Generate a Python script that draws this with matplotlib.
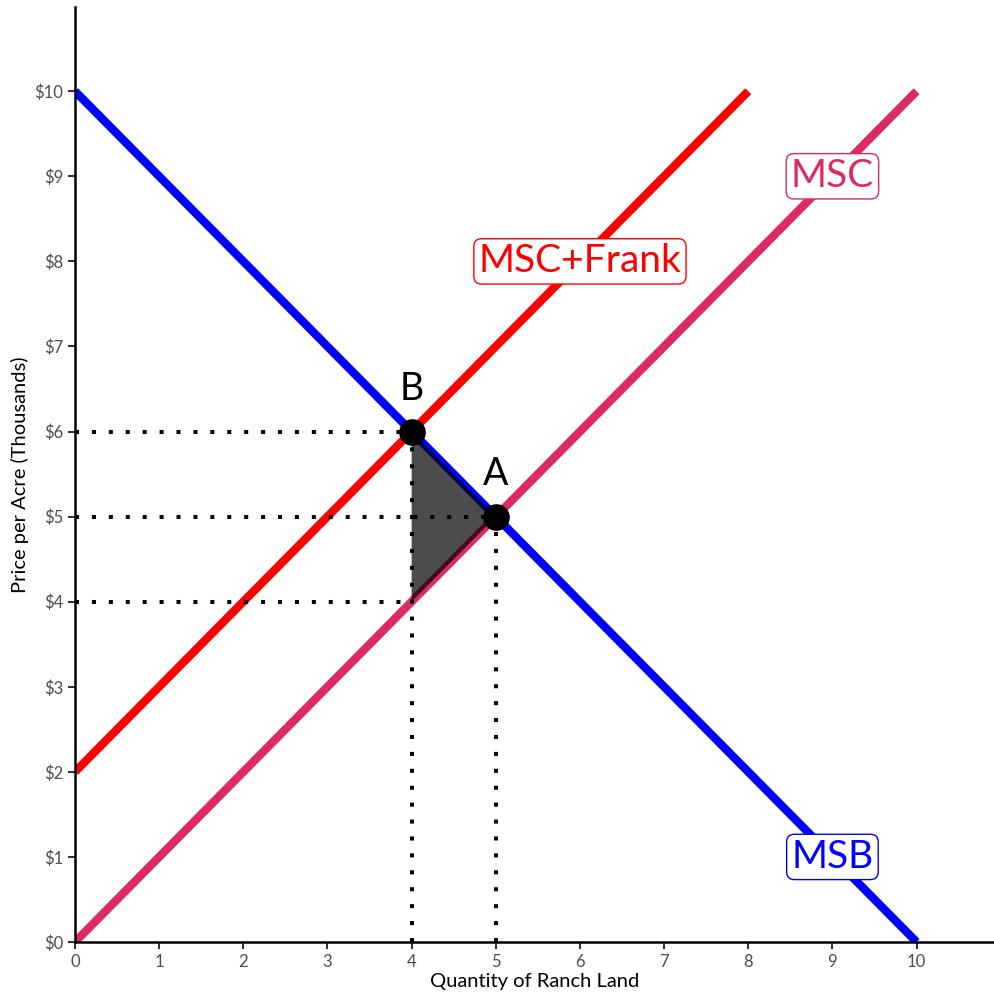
import matplotlib.pyplot as plt
import numpy as np

# supply / demand curves (quantity, price)
q = np.array([0, 10])
msb = np.array([10, 0])
msc = np.array([0, 10])
q_frank = np.array([0, 8])
msc_frank = np.array([2, 10])

# equilibrium points
points_q = [5, 4]
points_p = [5, 6]
point_names = ["A", "B"]

# deadweight loss triangle
dwl_q = [4, 5, 4]
dwl_p = [6, 5, 4]

# dotted guide lines: (q_end, price)
guide_h = [(4, 6), (5, 5), (4, 4)]
guide_v = [(4, 6), (5, 5)]

labels = [("MSC+Frank", 6, 8, "#ff0000"), ("MSC", 9, 9, "#dd2a62"), ("MSB", 9, 1, "#0000ff")]

plt.rcParams['font.family'] = ['Lato', 'DejaVu Sans']

fig = plt.figure(figsize=(9.94, 9.94), dpi=100)
ax = fig.add_axes([75 / 994, 52 / 994, 919 / 994, 935 / 994])

lw = 6
ax.plot(q, msb, color="#0000ff", lw=lw, solid_capstyle="butt", zorder=2)
ax.plot(q, msc, color="#dd2a62", lw=lw, solid_capstyle="butt", zorder=2)
ax.plot(q_frank, msc_frank, color="#ff0000", lw=lw, solid_capstyle="butt", zorder=2)

ax.fill(dwl_q, dwl_p, color="black", alpha=0.7, lw=0, zorder=3)

for qe, p in guide_h:
    ax.plot([0, qe], [p, p], color="black", lw=2.9, ls=(0, (1, 3.2)), zorder=4)
for qe, p in guide_v:
    ax.plot([qe, qe], [0, p], color="black", lw=2.9, ls=(0, (1, 3.2)), zorder=4)

ax.scatter(points_q, points_p, s=330, color="black", zorder=5)
for x, y, name in zip(points_q, points_p, point_names):
    ax.text(x, y + 0.5, name, ha="center", va="center", fontsize=27, zorder=6)

for text, x, y, c in labels:
    ax.text(x, y, text, ha="center", va="center", fontsize=28, color=c, zorder=6,
            bbox=dict(boxstyle="round,pad=0.12,rounding_size=0.2", fc="white", ec=c, lw=1))

ax.set_xlim(0, 10.92)
ax.set_ylim(0, 10.99)
ax.set_xticks(range(0, 11))
ax.set_yticks(range(0, 11))
ax.set_yticklabels([f"${i}" for i in range(0, 11)])
ax.tick_params(labelsize=12, colors="#4d4d4d", length=5, width=1.5, direction="out")
ax.tick_params(axis="both", color="#333333")
ax.spines["top"].set_visible(False)
ax.spines["right"].set_visible(False)
ax.spines["left"].set_linewidth(1.8)
ax.spines["bottom"].set_linewidth(1.8)
ax.set_xlabel("Quantity of Ranch Land", fontsize=14.5, labelpad=2)
ax.set_ylabel("Price per Acre (Thousands)", fontsize=14.5, labelpad=4)

fig.savefig("out.png", dpi=100)
